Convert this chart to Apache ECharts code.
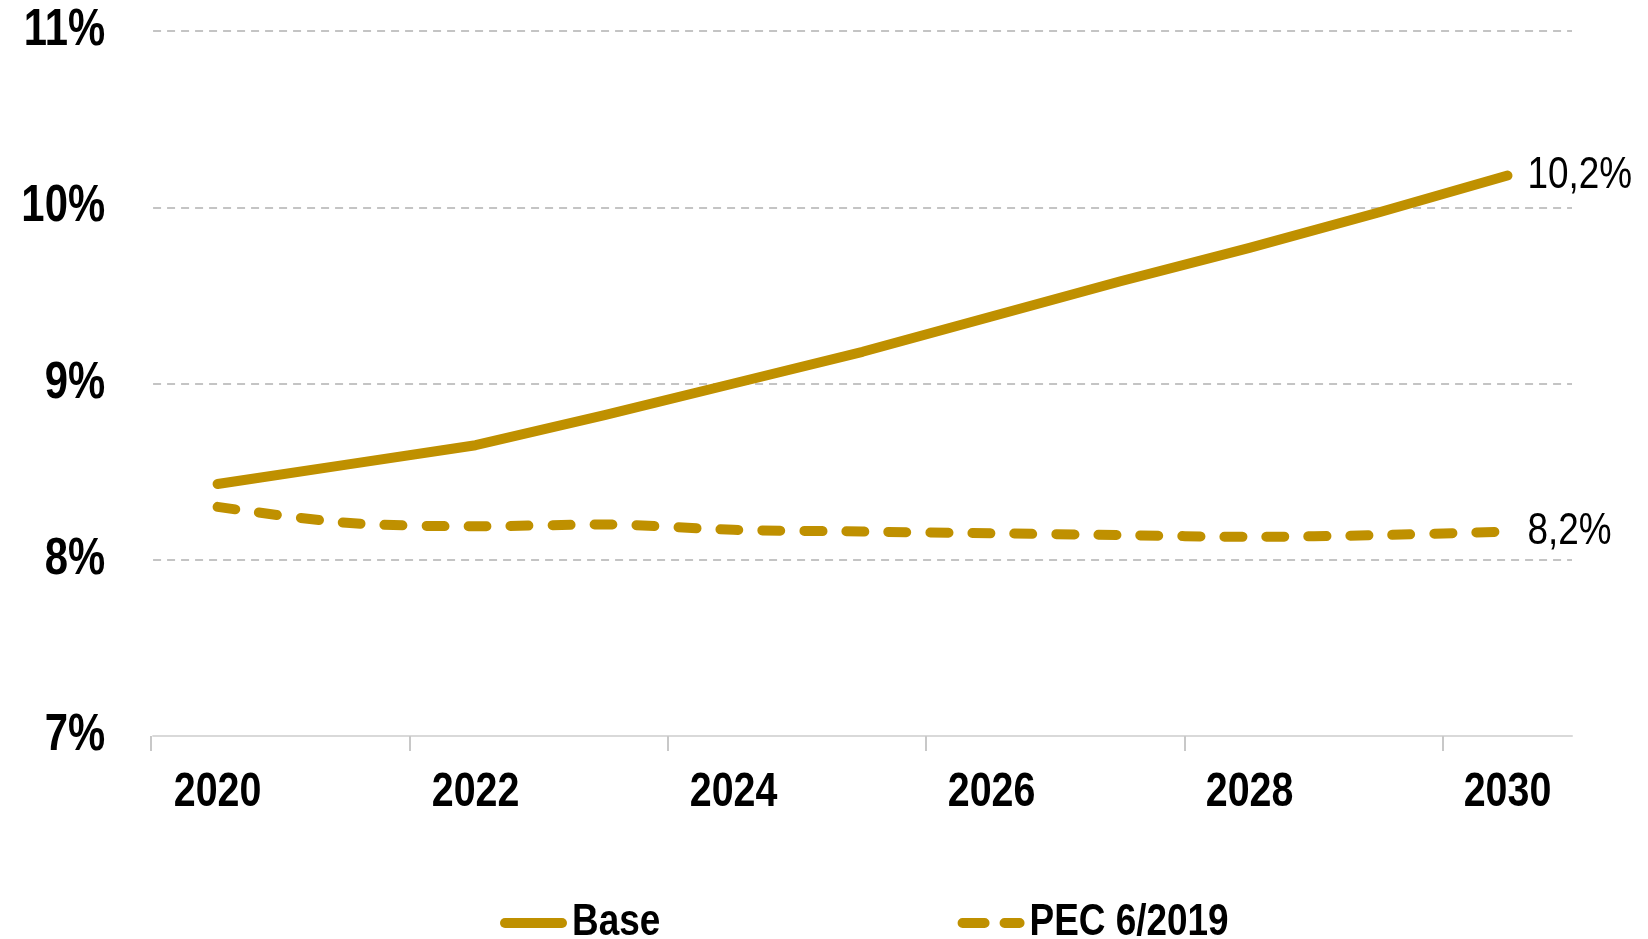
<!DOCTYPE html>
<html>
<head>
<meta charset="utf-8">
<title>Base vs PEC 6/2019</title>
<script src="https://cdn.jsdelivr.net/npm/echarts@6/dist/echarts.min.js"></script>
<style>
  html, body { margin: 0; padding: 0; background: #fff; }
  #chart { width: 1648px; height: 939px; }
</style>
</head>
<body>
<div id="chart"></div>
<script>
// anos do eixo x
var years = ["2020", "2021", "2022", "2023", "2024", "2025", "2026", "2027", "2028", "2029", "2030"];
// cenario base (%)
var baseValues = [8.43, 8.54, 8.65, 8.82, 9.0, 9.18, 9.38, 9.58, 9.77, 9.97, 10.18];
// cenario PEC 6/2019 (%)
var pecValues = [8.30, 8.21, 8.19, 8.20, 8.17, 8.16, 8.15, 8.14, 8.13, 8.14, 8.16];
var seriesNames = ["Base", "PEC 6/2019"];
var yTicks = [7, 8, 9, 10, 11];

var gold = "#BF9000";
var family = "'Liberation Sans', Arial, sans-serif";
var squeeze = 0.82; // imita a fonte "narrow" do original

var W = 1648, gLeft = 151, gRight = 76, gTop = 31, gBottom = 203;
// o original nao tem tracinho no fim do eixo: os tracinhos vao num grid
// auxiliar que acaba na ultima divisoria
var band = (W - gLeft - gRight) / years.length;
var tickRight = W - gLeft - band * (years.length - 1);

function pct(v) {
  return v.toFixed(1).replace(".", ",") + "%";
}

var chart = echarts.init(document.getElementById("chart"));
chart.setOption({
  animation: false,
  grid: [
    { left: gLeft, right: gRight, top: gTop, bottom: gBottom },
    { left: gLeft, right: tickRight, top: gTop, bottom: gBottom }
  ],
  legend: {
    left: 495,
    top: 893,
    itemWidth: 67,
    itemHeight: 10,
    itemGap: 278,
    data: [
      { name: seriesNames[0], icon: "path://M5,0h57a5,5 0 0 1 0,10h-57a5,5 0 0 1 0,-10z" },
      { name: seriesNames[1], icon: "path://M5,0h22a5,5 0 0 1 0,10h-22a5,5 0 0 1 0,-10z M47,0h15a5,5 0 0 1 0,10h-15a5,5 0 0 1 0,-10z" }
    ],
    textStyle: {
      fontFamily: family,
      fontWeight: "bold",
      fontSize: 45,
      lineHeight: 50,
      color: "#000"
    }
  },
  xAxis: [
    {
      type: "category",
      gridIndex: 0,
      data: years,
      boundaryGap: true,
      axisLine: { lineStyle: { color: "#d9d9d9", width: 2 } },
      axisTick: { show: false },
      axisLabel: {
        interval: 1,
        margin: 33,
        fontFamily: family,
        fontWeight: "bold",
        fontSize: 48,
        lineHeight: 48,
        color: "#000"
      }
    },
    {
      type: "category",
      gridIndex: 1,
      data: years.slice(0, years.length - 1),
      boundaryGap: true,
      axisLine: { show: false },
      axisLabel: { show: false },
      axisTick: { show: true, interval: 1, length: 15, lineStyle: { color: "#c8c8c8", width: 2 } }
    }
  ],
  yAxis: [
    {
      type: "value",
      gridIndex: 0,
      min: yTicks[0],
      max: yTicks[yTicks.length - 1],
      interval: 1,
      axisLine: { show: false },
      axisTick: { show: false },
      axisLabel: {
        margin: 48,
        fontFamily: family,
        fontWeight: "bold",
        fontSize: 51,
        color: "#000",
        formatter: function (v) { return v + "%"; }
      },
      splitLine: {
        lineStyle: { color: "#c4c4c4", width: 2, type: [8, 6] }
      }
    },
    {
      type: "value",
      gridIndex: 1,
      min: yTicks[0],
      max: yTicks[yTicks.length - 1],
      interval: 1,
      show: false
    }
  ],
  series: [
    {
      name: seriesNames[0],
      type: "line",
      data: baseValues,
      symbol: "none",
      color: gold,
      lineStyle: { color: gold, width: 10, cap: "round", join: "round" },
      endLabel: {
        show: true,
        distance: 20,
        fontFamily: family,
        fontSize: 45,
        color: "#000",
        formatter: function (p) { return pct(p.value); }
      }
    },
    {
      name: seriesNames[1],
      type: "line",
      data: pecValues,
      symbol: "none",
      smooth: 0.3,
      color: gold,
      lineStyle: { color: gold, width: 10, type: [18, 24], cap: "round", join: "round" },
      endLabel: {
        show: true,
        distance: 20,
        fontFamily: family,
        fontSize: 45,
        color: "#000",
        formatter: function (p) { return pct(p.value); }
      }
    }
  ]
});

// aperta os textos na horizontal, mantendo o ponto de ancoragem
var zr = chart.getZr();
zr.storage.getDisplayList(true).forEach(function (el) {
  if (el.type === "tspan") {
    el.originX = el.style.x || 0;
    el.scaleX = squeeze;
    el.markRedraw();
  }
});
zr.refresh();
</script>
</body>
</html>
